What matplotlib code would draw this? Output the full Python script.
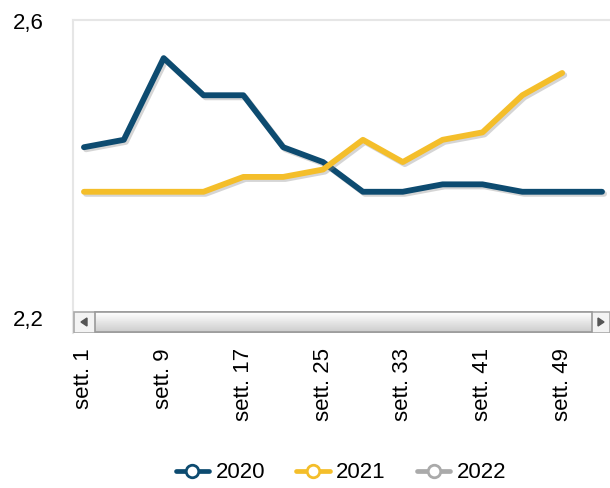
import numpy as np
import matplotlib
matplotlib.use("Agg")
import matplotlib.pyplot as plt
import matplotlib.patheffects as pe
from matplotlib.lines import Line2D
from matplotlib.patches import Rectangle, Polygon

plt.rcParams['font.family'] = ['Liberation Sans', 'DejaVu Sans']

# data (one point every 4 weeks)
weeks_2020 = [1, 5, 9, 13, 17, 21, 25, 29, 33, 37, 41, 45, 49, 53]
vals_2020 = [2.43, 2.44, 2.55, 2.50, 2.50, 2.43, 2.41, 2.37, 2.37, 2.38, 2.38, 2.37, 2.37, 2.37]
weeks_2021 = [1, 5, 9, 13, 17, 21, 25, 29, 33, 37, 41, 45, 49]
vals_2021 = [2.37, 2.37, 2.37, 2.37, 2.39, 2.39, 2.40, 2.44, 2.41, 2.44, 2.45, 2.50, 2.53]
weeks_2022 = []
vals_2022 = []

tick_weeks = [1, 9, 17, 25, 33, 41, 49]
tick_labels = ["sett. %d" % w for w in tick_weeks]
y_ticks = [2.2, 2.6]
y_labels = ["2,2", "2,6"]

series = [("2020", weeks_2020, vals_2020, "#0d4b70"),
          ("2021", weeks_2021, vals_2021, "#f4be2a"),
          ("2022", weeks_2022, vals_2022, "#aaaaaa")]

W, H = 610, 488
fig = plt.figure(figsize=(W / 100, H / 100), dpi=100)
ax = fig.add_axes([73 / W, 1 - 333 / H, 537 / W, 313 / H])

shadow = [pe.SimpleLineShadow(offset=(1.5, -1.5), shadow_color="#888888", alpha=0.35), pe.Normal()]
handles = []
for name, xs, ys, col in series:
    ax.plot(xs, ys, color=col, lw=4.2, solid_capstyle="round", path_effects=shadow, zorder=3)
    handles.append(Line2D([], [], color=col, lw=3.4, solid_capstyle="round",
                          marker="o", markersize=9, markerfacecolor="white",
                          markeredgecolor=col, markeredgewidth=2, label=name))

ax.set_xlim(-0.1, 53.8)
ax.set_ylim(2.6 + 1 / 742.5 - 313 / 742.5, 2.6 + 1 / 742.5)
ax.set_xticks(tick_weeks)
ax.set_xticklabels(tick_labels, rotation=90, ha="center", va="top", fontsize=16)
ax.set_yticks(y_ticks)
ax.set_yticklabels(y_labels, fontsize=16)
ax.tick_params(axis="x", length=0, pad=11)
ax.tick_params(axis="y", length=0, pad=21)
for s in ["right", "bottom"]:
    ax.spines[s].set_visible(False)
for s in ["top", "left"]:
    ax.spines[s].set_color("#e6e6e6")
    ax.spines[s].set_linewidth(1.5)

# scrollbar widget under the plot
sb = fig.add_axes([73 / W, 1 - 333 / H, 537 / W, 22 / H], zorder=5)
sb.set_xlim(0, 537)
sb.set_ylim(0, 22)
sb.axis("off")
sb.add_patch(Rectangle((0.5, 0.5), 536, 21, facecolor="#f3f3f3", edgecolor="#a9a9a9", lw=1.2))
grad = np.linspace(1.0, 0.8, 50).reshape(-1, 1)
sb.imshow(grad, cmap="gray", vmin=0, vmax=1, extent=(22, 519, 1, 21), aspect="auto", zorder=2)
sb.add_patch(Rectangle((22, 1), 497, 20, facecolor="none", edgecolor="#9a9a9a", lw=1.2, zorder=3))
sb.add_patch(Polygon([[8, 11], [14, 7], [14, 15]], closed=True, color="#555555", zorder=3))
sb.add_patch(Polygon([[531, 11], [525, 7], [525, 15]], closed=True, color="#555555", zorder=3))

fig.legend(handles=handles, loc="center", bbox_to_anchor=(341 / W, 1 - 473 / H), ncol=3,
           frameon=False, fontsize=16, handlelength=1.5, handletextpad=0.3, columnspacing=1.4)

fig.savefig("out.png", dpi=100)
